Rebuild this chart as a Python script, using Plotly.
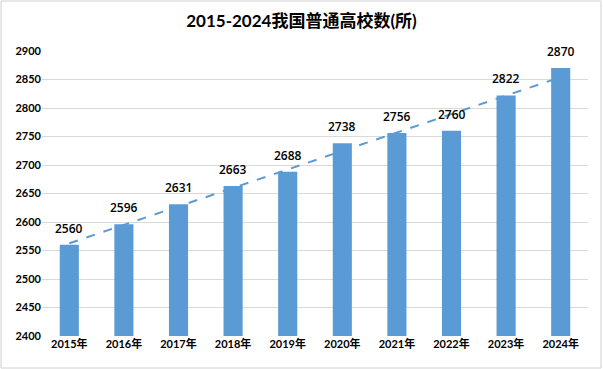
import numpy as np
import plotly.graph_objects as go

years = ["2015年", "2016年", "2017年", "2018年", "2019年", "2020年", "2021年", "2022年", "2023年", "2024年"]
schools = [2560, 2596, 2631, 2663, 2688, 2738, 2756, 2760, 2822, 2870]
y_ticks = [2400, 2450, 2500, 2550, 2600, 2650, 2700, 2750, 2800, 2850, 2900]
title = "2015-2024我国普通高校数(所)"

idx = np.arange(len(schools))
slope, intercept = np.polyfit(idx, schools, 1)
trend = slope * idx + intercept

fig = go.Figure()
fig.add_trace(go.Bar(
    x=years, y=schools, marker=dict(color="#5B9BD5", line=dict(width=0)),
    width=0.35, hoverinfo="x+y",
))
fig.add_trace(go.Scatter(
    x=years, y=trend, mode="lines",
    line=dict(color="#5B9BD5", width=2, dash="dash"), hoverinfo="skip",
))

annotations = [
    dict(x=yr, y=v, text=str(v), showarrow=False, yanchor="bottom", yshift=6,
         font=dict(family="Open Sans, Lato, sans-serif", size=12, color="#000000", weight=600))
    for yr, v in zip(years, schools)
]

fig.update_layout(
    width=603, height=369,
    margin=dict(l=42, r=15, t=51, b=33),
    paper_bgcolor="white", plot_bgcolor="white",
    showlegend=False,
    annotations=annotations,
    title=dict(text="<b>" + title + "</b>", x=0.5, xanchor="center", y=0.943, yanchor="middle",
               font=dict(family="Lato, Noto Sans CJK SC, sans-serif", size=17, color="#000000")),
    xaxis=dict(showgrid=False, showline=False, ticks="",
               tickfont=dict(family="Lato, Noto Sans CJK SC, sans-serif", size=11, color="#000000", weight="bold")),
    yaxis=dict(range=[2400, 2900], tickvals=y_ticks, showgrid=True, gridcolor="#D9D9D9", gridwidth=1,
               zeroline=False, showline=False, ticks="",
               tickfont=dict(family="Lato, sans-serif", size=11, color="#000000", weight="bold")),
    shapes=[dict(type="rect", xref="paper", yref="paper",
                 x0=-41/546, x1=1 + 13/546, y0=-32/285, y1=1 + 50/285,
                 line=dict(color="#D0D0D0", width=1), fillcolor="rgba(0,0,0,0)", layer="below")],
)

fig.write_html("out.html", config={"displayModeBar": False},
               post_script="document.body.style.margin='0';")
